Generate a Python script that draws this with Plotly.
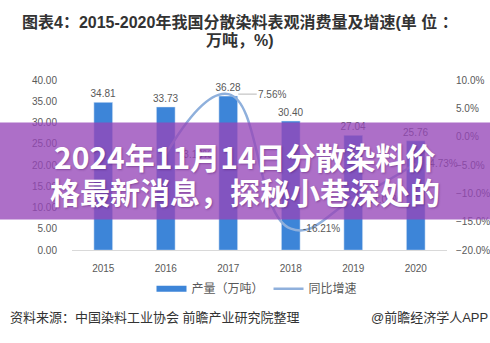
import plotly.graph_objects as go

# ---- data ----
years = ["2015", "2016", "2017", "2018", "2019", "2020"]
consumption = [34.81, 33.73, 36.28, 30.40, 27.04, 25.76]          # 万吨
growth_years = ["2016", "2017", "2018", "2019", "2020"]
growth = [-3.10, 7.56, -16.21, -11.05, -4.73]                       # %
label_shift = [12, 30, 10, 10, 8]

title_l1 = "图表4：2015-2020年我国分散染料表观消费量及增速(单 位 ："
title_l2 = "万吨，%)"
bar_name = "产量（万吨）"
line_name = "同比增速"
source_text = "资料来源：中国染料工业协会 前瞻产业研究院整理"
brand_text = "@前瞻经济学人APP"
banner_l1 = "2024年11月14日分散染料价"
banner_l2 = "格最新消息，探秘小巷深处的"

W, H = 490, 343
BAR_C = "#3d85d8"
LINE_C = "#8fb0dc"
GRAY = "#595959"
CJK = "Arial, 'Liberation Sans', 'Noto Sans CJK SC', sans-serif"

def py(px):
    return 1 - px / H

fig = go.Figure()

fig.add_trace(go.Bar(
    x=years, y=consumption, name=bar_name, marker_color=BAR_C, width=0.3,
    text=[f"{v:.2f}" for v in consumption], textposition="outside",
    constraintext="none",
    textfont=dict(size=10, color=GRAY, family=CJK), cliponaxis=False,
    showlegend=False, yaxis="y"))

fig.add_trace(go.Scatter(
    x=growth_years, y=growth, name=line_name, mode="lines",
    line=dict(color=LINE_C, width=2.5, shape="spline", smoothing=1.3),
    yaxis="y2", showlegend=False))

# legend-only entries (no visible points)
fig.add_trace(go.Scatter(x=years[:1], y=[None], mode="lines", name=bar_name,
                         line=dict(color=BAR_C, width=6), hoverinfo="skip"))
fig.add_trace(go.Scatter(x=years[:1], y=[None], mode="lines", name=line_name,
                         line=dict(color=LINE_C, width=2.5), yaxis="y2", hoverinfo="skip"))

annotations = []
for x, v, s in zip(growth_years, growth, label_shift):
    a = dict(x=years.index(x), y=v, xref="x", yref="y2", text=f"{v:.2f}%", xanchor="left",
             showarrow=False, xshift=s, font=dict(size=10, color=GRAY, family=CJK))
    if s >= 20:
        a.update(showarrow=True, arrowhead=0, arrowwidth=0.8, arrowcolor="#a6a6a6",
                 ax=s + 14, ay=0, standoff=10, xshift=0, xanchor="center")
    annotations.append(a)

# banner overlay
annotations.append(dict(x=0.5, y=py(171), xref="paper", yref="paper", text=" ",
                        showarrow=False, width=W + 4, height=96, borderpad=0,
                        bgcolor="rgba(150,70,185,0.78)", xanchor="center", yanchor="middle"))
for txt, yy in ((banner_l1, 155), (banner_l2, 192)):
    annotations.append(dict(x=0.5, y=py(yy), xref="paper", yref="paper", text=txt,
                            showarrow=False, xanchor="center", yanchor="middle",
                            font=dict(size=30, color="white", weight="bold",
                                      family="'Noto Sans CJK SC', sans-serif",
                                      shadow="1px 1px 2px rgba(60,0,80,0.35)")))

# title
for txt, yy in ((title_l1, 17), (title_l2, 36)):
    annotations.append(dict(x=0.49, y=py(yy), xref="paper", yref="paper", text=txt,
                            showarrow=False, xanchor="center", yanchor="middle",
                            font=dict(size=16, color="#333333", weight="bold", family=CJK)))

# source line
annotations.append(dict(x=8 / W, y=py(323), xref="paper", yref="paper", text=source_text,
                        showarrow=False, xanchor="left", yanchor="middle",
                        font=dict(size=13, color="#333333", family=CJK)))
annotations.append(dict(x=1, y=py(323), xref="paper", yref="paper", text=brand_text,
                        showarrow=False, xanchor="right", yanchor="middle",
                        font=dict(size=13, color="#333333", family=CJK)))

fig.update_layout(
    width=W, height=H, margin=dict(l=0, r=0, t=0, b=0),
    paper_bgcolor="white", plot_bgcolor="white",
    font=dict(family=CJK, color=GRAY),
    xaxis=dict(type="category", categoryorder="array", categoryarray=years,
               range=[-0.5, len(years) - 0.5],
               domain=[72 / W, 447 / W], showline=True,
               linecolor="#d9d9d9", linewidth=1, ticks="", showgrid=False,
               tickfont=dict(size=10, color=GRAY), ticklabelstandoff=9),
    yaxis=dict(domain=[py(253), py(77)], range=[0, 40], dtick=5, tickformat=".2f",
               showgrid=False, zeroline=False, ticks="",
               tickfont=dict(size=10, color=GRAY), ticklabelstandoff=14),
    yaxis2=dict(overlaying="y", side="right", range=[-20, 10], dtick=5,
                tickformat=".1f", ticksuffix="%", showgrid=False, zeroline=False,
                ticks="", tickfont=dict(size=10, color=GRAY), ticklabelstandoff=8),
    legend=dict(orientation="h", x=0.5 + 12 / W, xanchor="center", y=py(293), yanchor="middle",
                font=dict(size=12, color=GRAY), itemwidth=30, bgcolor="rgba(0,0,0,0)"),
    annotations=annotations,
)

fig.write_html("out.html")
